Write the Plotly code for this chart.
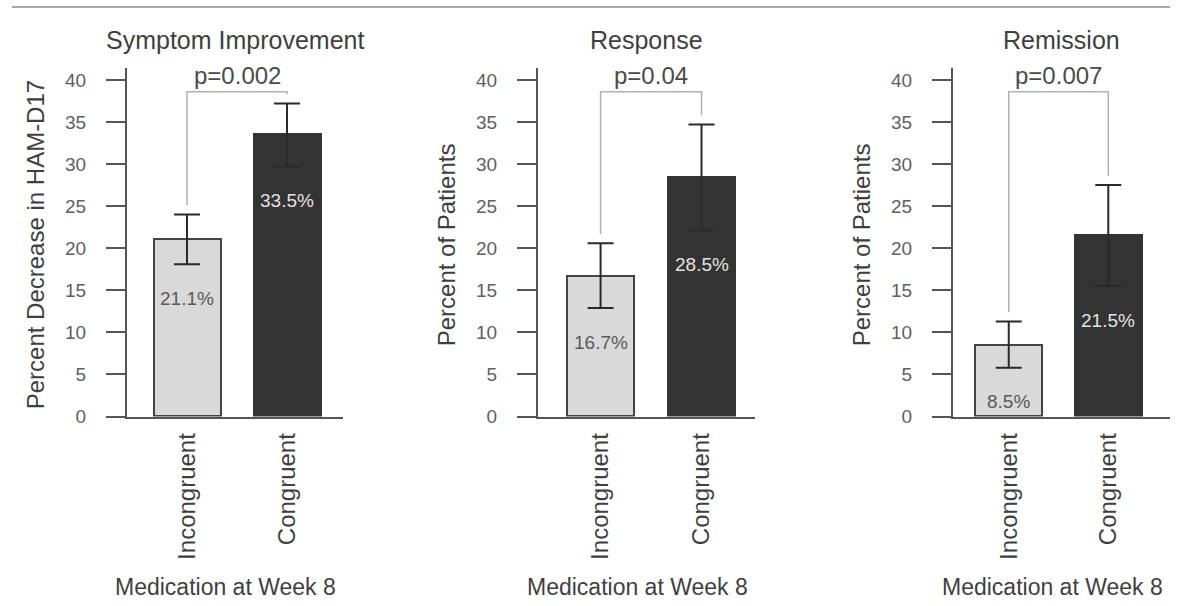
import plotly.graph_objects as go

# ---------------- data ----------------
categories = ["Incongruent", "Congruent"]
panel_titles = ["Symptom Improvement", "Response", "Remission"]
y_titles = ["Percent Decrease in HAM-D17", "Percent of Patients", "Percent of Patients"]
x_title = "Medication at Week 8"
p_values = ["p=0.002", "p=0.04", "p=0.007"]

symptom_values = [21.1, 33.5]
symptom_ci_low = [18.1, 29.7]
symptom_ci_high = [24.0, 37.2]

response_values = [16.7, 28.5]
response_ci_low = [12.9, 22.1]
response_ci_high = [20.6, 34.7]

remission_values = [8.5, 21.5]
remission_ci_low = [5.8, 15.5]
remission_ci_high = [11.3, 27.5]

y_tick_values = [0, 5, 10, 15, 20, 25, 30, 35, 40]

# ---------------- layout constants ----------------
W, H = 1179, 606
V_COMP = 618 / 606           # vertical compensation observed in the rendered photo
Y0_PX, YTOP_PX = 416, 68     # target pixel rows of y=0 and top of y axis
Y_MAX = 41.4
BRACKET_Y = 38.6
LEG_GAP = 1.1
LABEL_DROP = 4.05

# pixel extents of each panel's x-axis line and x ranges
panel_px = [(127, 343), (538, 755), (953, 1170)]
x_ranges = [[-0.6, 1.56], [-0.62, 1.53], [-0.56, 1.62]]

bar_fill = ["#d9d9d9", "#333333"]
bar_line = ["#444444", "#333333"]
label_colors = ["#5a5a5a", "#e2e2e2"]

values = [symptom_values, response_values, remission_values]
ci_low = [symptom_ci_low, response_ci_low, remission_ci_low]
ci_high = [symptom_ci_high, response_ci_high, remission_ci_high]

FONT = "Liberation Sans, Arial, Helvetica, sans-serif"

def px_x(x):
    return x / W

def px_y(y):
    return max(0.0, 1 - min(y * V_COMP, 598) / H)

fig = go.Figure()
annotations = []
shapes = []

for i in range(3):
    sfx = "" if i == 0 else str(i + 1)
    xa, ya = "x" + sfx, "y" + sfx
    vals = values[i]
    lo, hi = ci_low[i], ci_high[i]
    xs = [0, 1]

    fig.add_trace(go.Bar(
        x=xs, y=vals, width=0.67, xaxis=xa, yaxis=ya,
        marker=dict(color=bar_fill, line=dict(color=bar_line, width=2)),
        error_y=dict(type="data", symmetric=False,
                     array=[h - v for h, v in zip(hi, vals)],
                     arrayminus=[v - l for v, l in zip(vals, lo)],
                     color="#2a2a2a", thickness=2, width=13),
        showlegend=False, hoverinfo="skip",
    ))

    # significance bracket
    fig.add_trace(go.Scatter(
        x=[0, 0, 1, 1],
        y=[hi[0] + LEG_GAP, BRACKET_Y, BRACKET_Y, hi[1] + LEG_GAP],
        mode="lines", line=dict(color="#b0b0b0", width=1.5),
        xaxis=xa, yaxis=ya, showlegend=False, hoverinfo="skip",
    ))

    # value labels in bars
    for j in range(2):
        annotations.append(dict(
            x=xs[j], y=lo[j] - LABEL_DROP, xref=xa, yref=ya,
            text=f"{vals[j]}%", showarrow=False, xanchor="center",
            font=dict(family=FONT, size=19, color=label_colors[j]),
        ))

    # p value
    annotations.append(dict(
        x=0.5, y=px_y(75), xref=xa, yref="paper", text=p_values[i],
        showarrow=False, xanchor="center", yanchor="middle",
        font=dict(family=FONT, size=24, color="#4a4a4a"),
    ))

    left, right = panel_px[i]
    # panel title
    annotations.append(dict(
        x=px_x((left + right) / 2), y=px_y(40), xref="paper", yref="paper",
        text=panel_titles[i], showarrow=False, xanchor="center", yanchor="middle",
        font=dict(family=FONT, size=25, color="#3f3f3f"),
    ))
    # y title
    annotations.append(dict(
        x=px_x(left - 92), y=px_y(245), xref="paper", yref="paper",
        text=y_titles[i], showarrow=False, textangle=-90,
        xanchor="center", yanchor="middle",
        font=dict(family=FONT, size=24, color="#3f3f3f"),
    ))
    # x title
    annotations.append(dict(
        x=px_x((left - 19 + right) / 2), y=px_y(590), xref="paper", yref="paper",
        text=x_title, showarrow=False, xanchor="center", yanchor="middle",
        font=dict(family=FONT, size=23, color="#3f3f3f"),
    ))

    fig.layout["xaxis" + sfx] = dict(
        domain=[px_x(left), px_x(right)], anchor=ya,
        range=x_ranges[i], tickvals=xs, ticktext=categories,
        tickangle=-90, ticks="", showline=True, linecolor="#555555", linewidth=2,
        showgrid=False, zeroline=False, ticklabelstandoff=5,
        tickfont=dict(family=FONT, size=24, color="#3f3f3f"), fixedrange=True,
    )
    fig.layout["yaxis" + sfx] = dict(
        domain=[px_y(Y0_PX), px_y(YTOP_PX)], anchor=xa,
        range=[0, Y_MAX], tickvals=y_tick_values,
        ticks="outside", ticklen=19, tickwidth=2, tickcolor="#555555",
        showline=True, linecolor="#555555", linewidth=2,
        showgrid=False, zeroline=False, ticklabelstandoff=16,
        tickfont=dict(family=FONT, size=19, color="#606060"), fixedrange=True,
    )

# top rule
shapes.append(dict(type="line", xref="paper", yref="paper",
                   x0=px_x(12), x1=px_x(1170), y0=px_y(7), y1=px_y(7),
                   line=dict(color="#a8a8a8", width=2)))

fig.update_layout(
    width=W, height=H, margin=dict(l=0, r=0, t=0, b=0),
    paper_bgcolor="white", plot_bgcolor="white",
    annotations=annotations, shapes=shapes, bargap=0,
    font=dict(family=FONT),
)

page_fix = (
    "var hs=document.documentElement.style;hs.margin='0';hs.padding='0';"
    "hs.overflow='hidden';"
    "var bs=document.body.style;bs.margin='0';bs.padding='0';bs.overflow='hidden';"
)

fig.write_html("out.html", config={"displayModeBar": False}, post_script=page_fix)
